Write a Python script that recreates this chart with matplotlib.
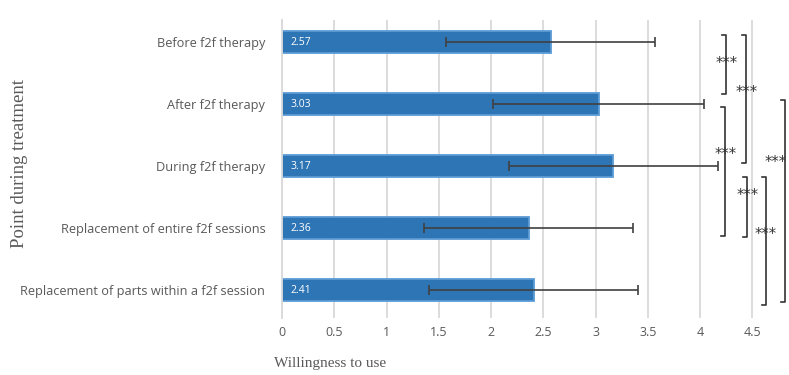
import numpy as np
import matplotlib.pyplot as plt

# Datos del gráfico
categorias = ["Before f2f therapy", "After f2f therapy", "During f2f therapy",
              "Replacement of entire f2f sessions",
              "Replacement of parts within a f2f session"]
medias = [2.57, 3.03, 3.17, 2.36, 2.41]
desv = [1.0, 1.01, 1.0, 1.0, 1.0]
ticks_x = [0, 0.5, 1, 1.5, 2, 2.5, 3, 3.5, 4, 4.5]

# Corchetes de significancia: (x, y inicio, y fin, y de las estrellas, x de las estrellas)
corchetes = [
    (4.25, -0.11, 0.84, 0.34, 4.25),
    (4.44, -0.11, 1.95, 0.82, 4.44),
    (4.24, 1.05, 3.13, 1.82, 4.24),
    (4.45, 2.18, 3.15, 2.48, 4.45),
    (4.63, 2.18, 4.24, 3.11, 4.63),
    (4.81, 0.94, 4.19, 1.95, 4.72),
]

fig = plt.figure(figsize=(7.89, 3.75), dpi=100)
ax = fig.add_axes([282 / 789, 1 - 318 / 375, 1 - 282 / 789, 298 / 375])

y = np.arange(len(categorias))
ax.barh(y, medias, height=0.36, color="#2E75B6", edgecolor="#5B9BD5",
        linewidth=1.3, zorder=2)
ax.errorbar(medias, y, xerr=desv, fmt="none", ecolor="#404040",
            elinewidth=1.2, capsize=3.5, capthick=1.2, zorder=3)

for yi, m in zip(y, medias):
    ax.text(0.08, yi, f"{m:.2f}", color="white", fontsize=7.5,
            va="center", ha="left", family="Open Sans", zorder=4)

# Corchetes
for x, y0, y1, ys, xs in corchetes:
    ax.plot([x - 0.04, x, x, x - 0.04], [y0, y0, y1, y1], color="#333333",
            lw=1.2, clip_on=False, zorder=5)
    ax.text(xs, ys, "***", ha="center", va="center", fontsize=10.5,
            color="#333333", clip_on=False, zorder=6)

ax.set_xlim(0, 4.85)
ax.set_ylim(4.45, -0.355)
ax.set_xticks(ticks_x)
ax.set_xticklabels([f"{t:g}" for t in ticks_x], family="Open Sans",
                   fontsize=9, color="#595959")
ax.set_yticks(y)
ax.set_yticklabels(categorias, family="Open Sans", fontsize=9.2, color="#595959")
ax.tick_params(axis="x", length=0, pad=6)
ax.tick_params(axis="y", length=0, pad=12)
ax.grid(axis="x", color="#d9d9d9", lw=1.3, zorder=0)
for s in ["top", "right", "bottom"]:
    ax.spines[s].set_visible(False)
ax.spines["left"].set_color("#d9d9d9")
ax.spines["left"].set_linewidth(1.3)

ax.set_xlabel("Willingness to use", family="Liberation Serif", fontsize=11,
              color="#595959", loc="left", labelpad=3)
ax.xaxis.set_label_coords(-0.015, -0.13)
ax.set_ylabel("Point during treatment", family="Liberation Serif",
              fontsize=13.5, color="#595959")
ax.yaxis.set_label_coords(-0.50, 0.52)

fig.savefig("out.png", dpi=100)
